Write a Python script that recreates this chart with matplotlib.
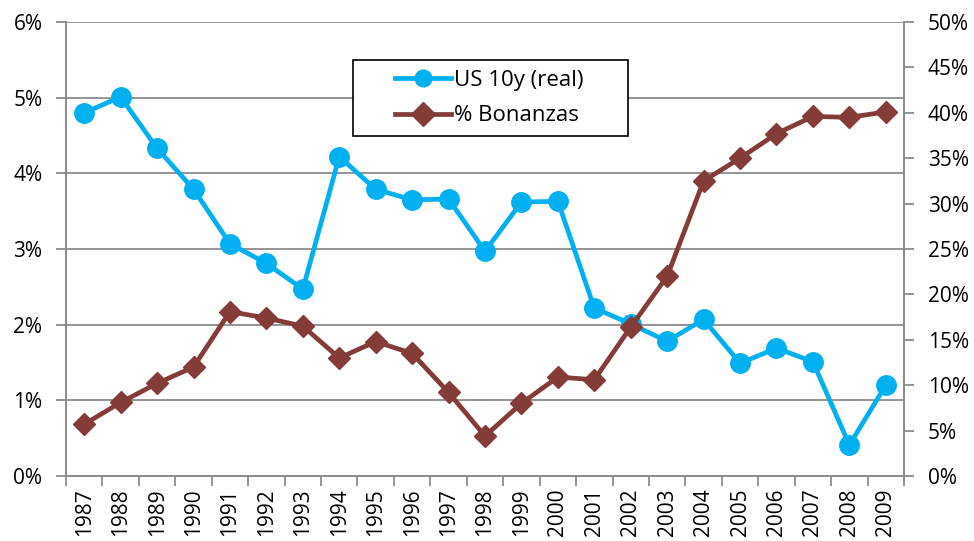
import matplotlib
matplotlib.use("Agg")
import matplotlib.pyplot as plt
from matplotlib.patches import Rectangle
from matplotlib.ticker import FuncFormatter, MultipleLocator, FixedLocator

years = [str(y) for y in range(1987, 2010)]
us10y_real = [4.80, 5.01, 4.33, 3.79, 3.07, 2.81, 2.47, 4.22, 3.79, 3.65, 3.66, 2.97,
              3.62, 3.63, 2.22, 2.01, 1.78, 2.07, 1.49, 1.69, 1.51, 0.41, 1.20]
bonanzas = [5.7, 8.1, 10.2, 12.0, 18.1, 17.4, 16.5, 13.0, 14.8, 13.5, 9.2, 4.4,
            8.0, 10.9, 10.6, 16.4, 22.0, 32.5, 35.0, 37.7, 39.6, 39.5, 40.1]

plt.rcParams['font.family'] = ['Open Sans', 'DejaVu Sans']
GRAY = '#8c8c8c'
BLUE = '#00B0F0'
RED = '#843C39'
FS = 15
W, H = 974, 541

fig = plt.figure(figsize=(9.74, 5.41), dpi=100)
ax = fig.add_axes([66/W, 1-476/H, (904-66)/W, (476-22)/H])
ax2 = ax.twinx()

x = list(range(len(years)))
l1, = ax.plot(x, us10y_real, color=BLUE, lw=3.4, marker='o', markersize=14, zorder=3,
              label='US 10y (real)')
l2, = ax2.plot(x, bonanzas, color=RED, lw=3.4, marker='D', markersize=11, zorder=3,
               label='% Bonanzas')

ax.set_xlim(-0.5, len(years) - 0.5)
ax.set_ylim(0, 6)
ax2.set_ylim(0, 50)
ax.yaxis.set_major_locator(MultipleLocator(1))
ax2.yaxis.set_major_locator(MultipleLocator(5))
ax.yaxis.set_major_formatter(FuncFormatter(lambda v, p: f"{v:.0f}%"))
ax2.yaxis.set_major_formatter(FuncFormatter(lambda v, p: f"{v:.0f}%"))

ax.set_xticks(x)
ax.set_xticklabels(years, rotation=90, fontsize=FS)
ax.xaxis.set_minor_locator(FixedLocator([i - 0.5 for i in range(len(years) + 1)]))
ax.tick_params(axis='x', which='major', length=0, pad=9)
ax.tick_params(axis='x', which='minor', length=7, width=1.3, color=GRAY, direction='out')
ax.tick_params(axis='y', length=7, width=1.3, color=GRAY, labelsize=FS, pad=10)
ax2.tick_params(axis='y', length=7, width=1.3, color=GRAY, labelsize=FS, pad=10)

ax.grid(axis='y', color=GRAY, lw=1.3)
ax.set_axisbelow(True)
for a in (ax, ax2):
    a.spines['top'].set_visible(False)
    for s in ('left', 'right', 'bottom'):
        a.spines[s].set_color(GRAY)
        a.spines[s].set_linewidth(1.3)

ax2.set_zorder(ax.get_zorder() + 1)
ax2.patch.set_visible(False)

# legend box
box = Rectangle((353/W, 1-136/H), (628-353)/W, (136-60)/H, transform=fig.transFigure,
                facecolor='white', edgecolor='black', lw=1.2, zorder=10)
fig.patches.append(box)
leg = fig.legend([l1, l2], ['US 10y (real)', '% Bonanzas'],
                 loc='upper left', bbox_to_anchor=(395/W, 1-70/H),
                 frameon=False, fontsize=16, handlelength=2.5,
                 borderpad=0, labelspacing=0.65, handletextpad=0.15, borderaxespad=0)
leg.set_zorder(11)
for h in leg.legend_handles:
    h.set_markersize(12)

fig.savefig('out.png', dpi=100)
